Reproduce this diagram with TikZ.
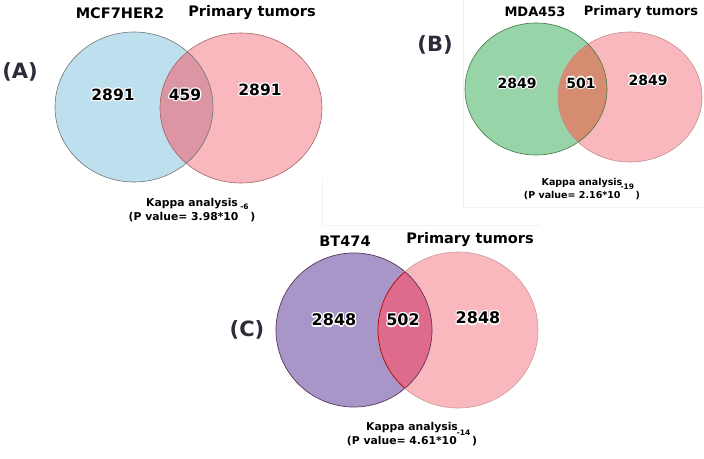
\documentclass[tikz,border=0pt]{standalone}
\usepackage{fontspec}
\setmainfont{DejaVu Sans}
\definecolor{setblue}{HTML}{BEE0EE}
\definecolor{setgreen}{HTML}{97D4A8}
\definecolor{setpurple}{HTML}{A896C8}
\definecolor{setpink}{HTML}{F9B8BE}
\definecolor{capA}{HTML}{DC95A3}
\definecolor{capB}{HTML}{D58C70}
\definecolor{capC}{HTML}{DE6A8C}
\definecolor{tagink}{HTML}{2B2E3A}
% white halo behind the counts
\newcommand\haloat[3]{\makebox[0pt][l]{\kern#1\raisebox{#2}{\color{white}#3}}}
\newcommand\halo[1]{%
  \haloat{-1.3pt}{0pt}{#1}\haloat{1.3pt}{0pt}{#1}%
  \haloat{0pt}{1.3pt}{#1}\haloat{0pt}{-1.3pt}{#1}%
  \haloat{-0.9pt}{0.9pt}{#1}\haloat{0.9pt}{0.9pt}{#1}%
  \haloat{-0.9pt}{-0.9pt}{#1}\haloat{0.9pt}{-0.9pt}{#1}#1}
\newcommand\expo[2]{\smash{\raisebox{#1}{\fontsize{7.5}{8}\selectfont #2}}}
\tikzset{
  setname/.style={font=\bfseries\fontsize{14.5}{16}\selectfont,inner sep=0pt},
  count/.style={font=\bfseries\fontsize{15.5}{17}\selectfont,inner sep=0pt},
  kappa/.style={font=\bfseries\fontsize{10.8}{14}\selectfont,align=center,inner sep=0pt},
  paneltag/.style={font=\bfseries\fontsize{21}{24}\selectfont,text=tagink,inner sep=0pt},
  small/.style={font=\bfseries\fontsize{13}{15}\selectfont},
  frame/.style={black!5,line width=0.5pt}
}
\begin{document}
\begin{tikzpicture}[x=1pt,y=-1pt]
\path[use as bounding box] (0,0) rectangle (704,458);
% faint panel frames
\draw[frame] (463,0) -- (463,207) -- (704,207);
\draw[frame] (322,180) -- (322,225) -- (540,225);
% ---- panel A
\fill[setblue] (134,107) ellipse [x radius=79,y radius=75];
\fill[setpink] (241,108) ellipse [x radius=81,y radius=75];
\begin{scope}
  \clip (134,107) ellipse [x radius=79,y radius=75];
  \fill[capA] (241,108) ellipse [x radius=81,y radius=75];
\end{scope}
\draw[black!55,line width=0.6pt] (134,107) ellipse [x radius=79,y radius=75];
\draw[red!40!black!60,line width=0.6pt] (241,108) ellipse [x radius=81,y radius=75];
\node[paneltag] (tagA) at (20,72) {(A)};
\node[setname] (nameA) at (120,13) {MCF7HER2};
\node[setname] (primA) at (252,13) {Primary tumors};
\node[count] (leftA) at (113,95) {\halo{2891}};
\node[count] (bothA) at (185,95) {\halo{459}};
\node[count] (rightA) at (260,90) {\halo{2891}};
\node[kappa] (kapA) at (192,210) {Kappa analysis\\(P value= 3.98*10\,\expo{11pt}{-6}\,)};
% ---- panel B
\fill[setgreen] (536,89) ellipse [x radius=71,y radius=66];
\fill[setpink] (630,97) ellipse [x radius=72,y radius=65];
\begin{scope}
  \clip (536,89) ellipse [x radius=71,y radius=66];
  \fill[capB] (630,97) ellipse [x radius=72,y radius=65];
\end{scope}
\draw[green!30!black!75,line width=0.6pt] (536,89) ellipse [x radius=71,y radius=66];
\draw[red!50!black!45,line width=0.6pt] (630,97) ellipse [x radius=72,y radius=65];
\node[paneltag] (tagB) at (435,45) {(B)};
\node[setname,small] (nameB) at (535,12) {MDA453};
\node[setname,small] (primB) at (641,12) {Primary tumors};
\node[count,font=\bfseries\fontsize{14}{16}\selectfont] (leftB) at (517,83) {\halo{2849}};
\node[count,font=\bfseries\fontsize{14}{16}\selectfont] (bothB) at (581,83) {\halo{501}};
\node[count,font=\bfseries\fontsize{14}{16}\selectfont] (rightB) at (648,80) {\halo{2849}};
\node[kappa,font=\bfseries\fontsize{9.5}{13}\selectfont] (kapB) at (582,189) {Kappa analysis\\(P value= 2.16*10\expo{9pt}{-19}\,)};
% ---- panel C
\fill[setpurple] (354,330) ellipse [x radius=78,y radius=77];
\fill[setpink] (458,330) ellipse [x radius=80,y radius=78];
\begin{scope}
  \clip (354,330) ellipse [x radius=78,y radius=77];
  \fill[capC] (458,330) ellipse [x radius=80,y radius=78];
\end{scope}
\draw[violet!40!black!80,line width=0.7pt] (354,330) ellipse [x radius=78,y radius=77];
\draw[red!50!black!40,line width=0.6pt] (458,330) ellipse [x radius=80,y radius=78];
\begin{scope}
  \clip (354,330) ellipse [x radius=78,y radius=77];
  \draw[red!70!black,line width=0.7pt] (458,330) ellipse [x radius=80,y radius=78];
\end{scope}
\node[paneltag] (tagC) at (247,330) {(C)};
\node[setname] (nameC) at (345,241) {BT474};
\node[setname] (primC) at (470,240) {Primary tumors};
\node[count,font=\bfseries\fontsize{16}{18}\selectfont] (leftC) at (334,320) {\halo{2848}};
\node[count,font=\bfseries\fontsize{16}{18}\selectfont] (bothC) at (403,320) {\halo{502}};
\node[count,font=\bfseries\fontsize{16}{18}\selectfont] (rightC) at (478,318) {\halo{2848}};
\node[kappa] (kapC) at (412,434) {Kappa analysis\\(P value= 4.61*10\expo{9pt}{-14}\,)};
\end{tikzpicture}
\end{document}
